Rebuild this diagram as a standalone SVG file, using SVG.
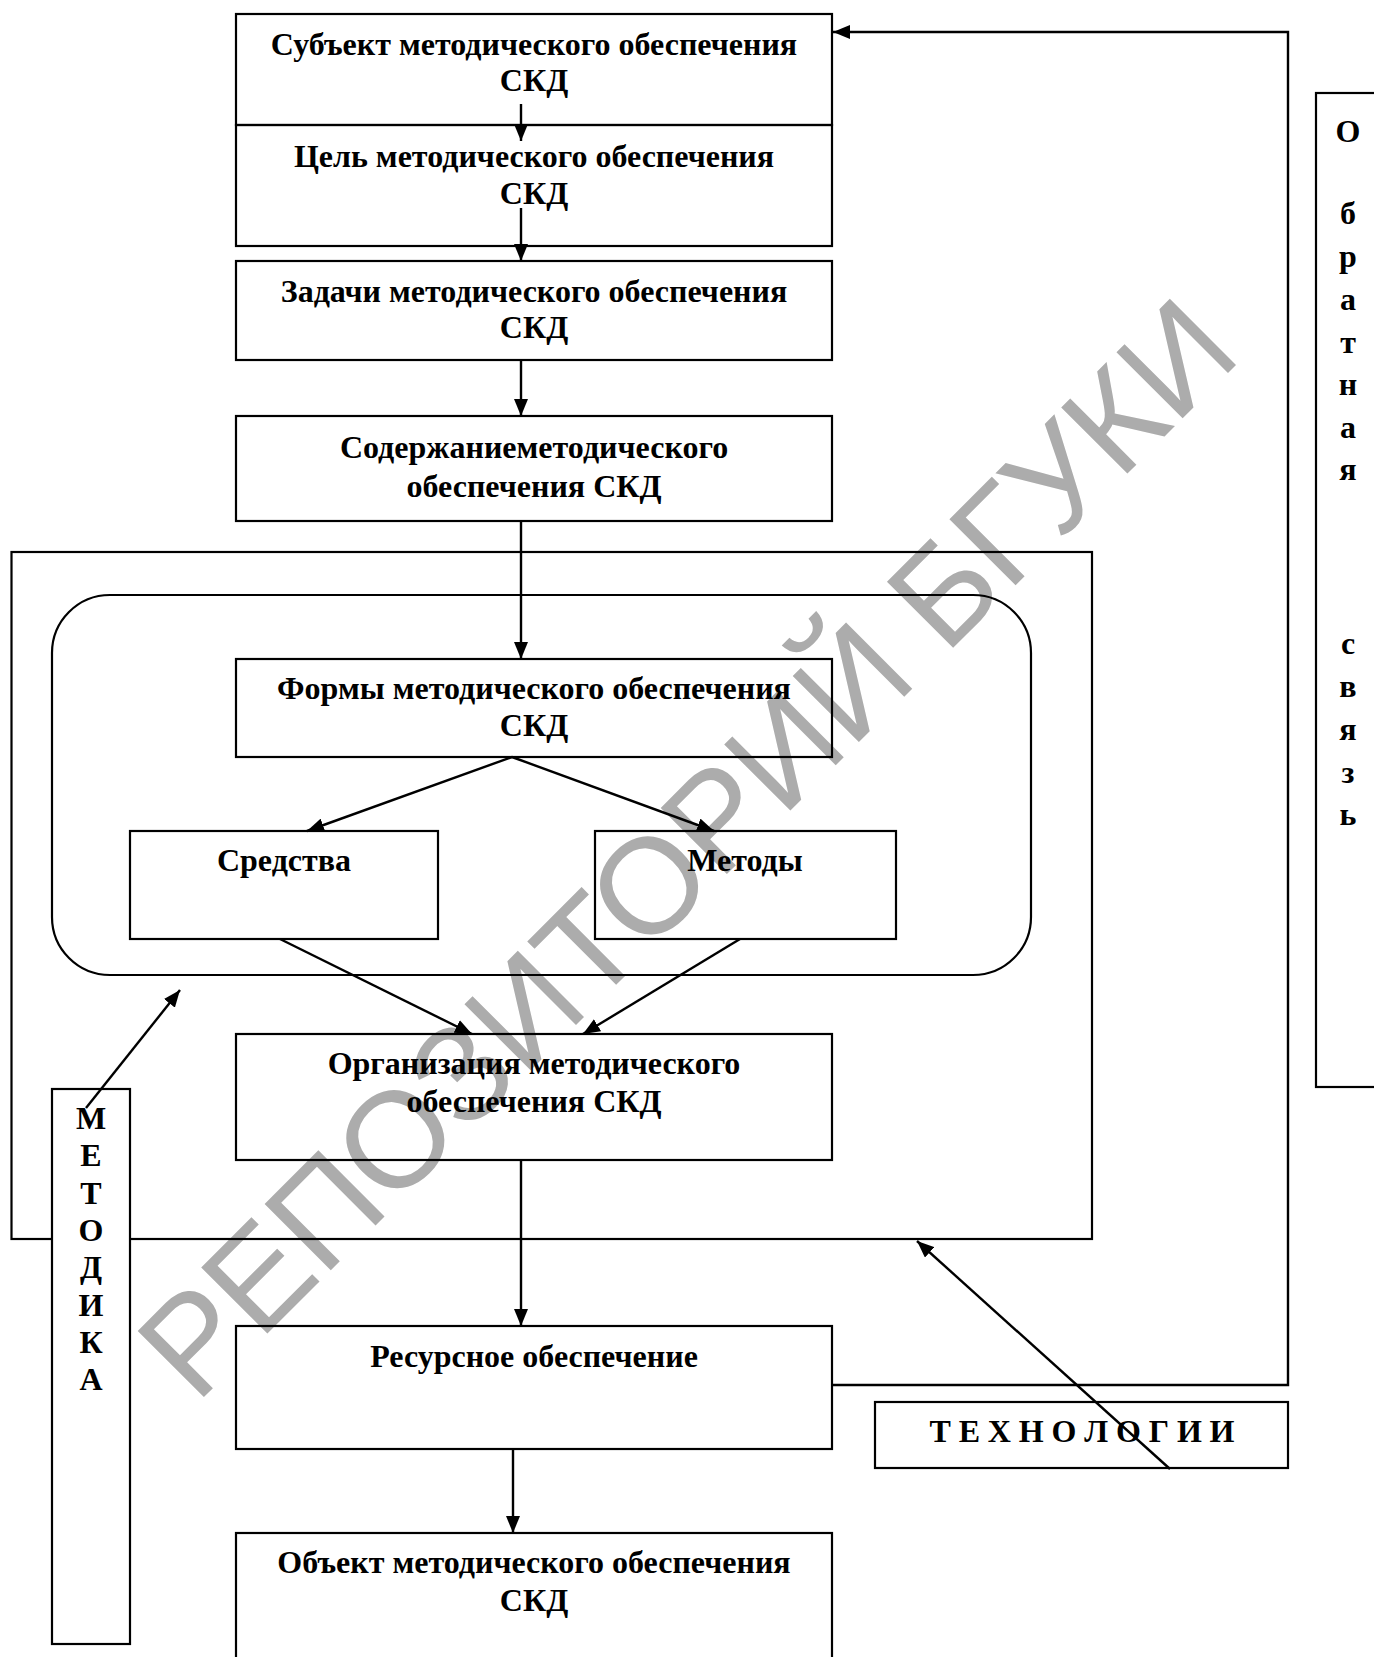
<svg xmlns="http://www.w3.org/2000/svg" width="1374" height="1657" viewBox="0 0 1374 1657">
<style>
.bx{fill:none;stroke:#000;stroke-width:2.2}
.bxw{fill:#fff;stroke:#000;stroke-width:2.2}
.t{font-family:"Liberation Serif","Times New Roman",serif;font-weight:bold;font-size:32px;fill:#000;text-anchor:middle}
.ca{fill:none;stroke:#000;stroke-width:2.4;marker-end:url(#ah)}
.wm{font-family:"Liberation Sans",Arial,sans-serif;font-size:136px;fill:#acacac}
</style>
<defs>
<marker id="ah" markerUnits="userSpaceOnUse" markerWidth="18" markerHeight="14" refX="17" refY="7" orient="auto">
<path d="M0,0 L17,7 L0,14 z" fill="#000"/>
</marker>
</defs>
<rect width="1374" height="1657" fill="#fff"/>
<g id="watermark">
<text class="wm" x="0" y="0" textLength="1482" lengthAdjust="spacing" transform="translate(196,1405) rotate(-45)">РЕПОЗИТОРИЙ БГУКИ</text>
</g>
<g id="frame-outer"><rect class="bx" x="11.5" y="552" width="1080.5" height="687"/></g>
<g id="frame-inner"><rect class="bx" x="52" y="595" width="979" height="380" rx="58" ry="58"/></g>
<g id="subject"><rect class="bx" x="236" y="14" width="596" height="111"/>
<text class="t" x="534" y="55">Субъект методического обеспечения</text><text class="t" x="534" y="91">СКД</text></g>
<g id="goal"><rect class="bx" x="236" y="125" width="596" height="121"/>
<text class="t" x="534" y="167">Цель методического обеспечения</text><text class="t" x="534" y="204">СКД</text></g>
<g id="tasks"><rect class="bx" x="236" y="261" width="596" height="99"/>
<text class="t" x="534" y="302">Задачи методического обеспечения</text><text class="t" x="534" y="338">СКД</text></g>
<g id="content"><rect class="bx" x="236" y="416" width="596" height="105"/>
<text class="t" x="534" y="458">Содержаниеметодического</text><text class="t" x="534" y="497">обеспечения СКД</text></g>
<g id="forms"><rect class="bx" x="236" y="659" width="596" height="98"/>
<text class="t" x="534" y="699">Формы методического обеспечения</text><text class="t" x="534" y="736">СКД</text></g>
<g id="means"><rect class="bx" x="130" y="831" width="308" height="108"/>
<text class="t" x="284" y="871">Средства</text></g>
<g id="methods"><rect class="bx" x="595" y="831" width="301" height="108"/>
<text class="t" x="745" y="871">Методы</text></g>
<g id="organization"><rect class="bx" x="236" y="1034" width="596" height="126"/>
<text class="t" x="534" y="1074">Организация методического</text><text class="t" x="534" y="1112">обеспечения СКД</text></g>
<g id="resources"><rect class="bx" x="236" y="1326" width="596" height="123"/>
<text class="t" x="534" y="1367">Ресурсное обеспечение</text></g>
<g id="object"><rect class="bx" x="236" y="1533" width="596" height="140"/>
<text class="t" x="534" y="1573">Объект методического обеспечения</text><text class="t" x="534" y="1611">СКД</text></g>
<g id="methodology"><rect class="bxw" x="52" y="1089" width="78" height="555"/>
<text class="t" x="91"><tspan x="91" y="1129">М</tspan><tspan x="91" y="1166">Е</tspan><tspan x="91" y="1204">Т</tspan><tspan x="91" y="1241">О</tspan><tspan x="91" y="1278">Д</tspan><tspan x="91" y="1316">И</tspan><tspan x="91" y="1353">К</tspan><tspan x="91" y="1390">А</tspan></text></g>
<g id="technologies"><rect class="bx" x="875" y="1402" width="413" height="66"/>
<text class="t" x="1082" y="1442" font-size="29" textLength="305" lengthAdjust="spacing">Т Е Х Н О Л О Г И И</text></g>
<g id="feedback"><rect class="bx" x="1316" y="93" width="120" height="994"/>
<text class="t" x="1348"><tspan x="1348" y="142">О</tspan><tspan x="1348" y="224">б</tspan><tspan x="1348" y="267">р</tspan><tspan x="1348" y="310">а</tspan><tspan x="1348" y="353">т</tspan><tspan x="1348" y="395">н</tspan><tspan x="1348" y="438">а</tspan><tspan x="1348" y="480">я</tspan><tspan x="1348" y="654">с</tspan><tspan x="1348" y="697">в</tspan><tspan x="1348" y="740">я</tspan><tspan x="1348" y="783">з</tspan><tspan x="1348" y="825">ь</tspan></text></g>
<g id="connectors">
<line class="ca" x1="521" y1="104" x2="521" y2="141"/>
<line class="ca" x1="521" y1="208" x2="521" y2="261"/>
<line class="ca" x1="521" y1="360" x2="521" y2="416"/>
<line class="ca" x1="521" y1="521" x2="521" y2="659"/>
<line class="ca" x1="512" y1="757" x2="307" y2="831"/>
<line class="ca" x1="512" y1="757" x2="714" y2="831"/>
<line class="ca" x1="280" y1="939" x2="472" y2="1034"/>
<line class="ca" x1="740" y1="939" x2="583" y2="1034"/>
<line class="ca" x1="521" y1="1160" x2="521" y2="1326"/>
<line class="ca" x1="513" y1="1449" x2="513" y2="1533"/>
<polyline class="ca" points="832,1385 1288,1385 1288,32 833,32"/>
<line class="ca" x1="86" y1="1108" x2="180" y2="990"/>
<line class="ca" x1="1170" y1="1469" x2="917" y2="1241"/>
</g>
</svg>
